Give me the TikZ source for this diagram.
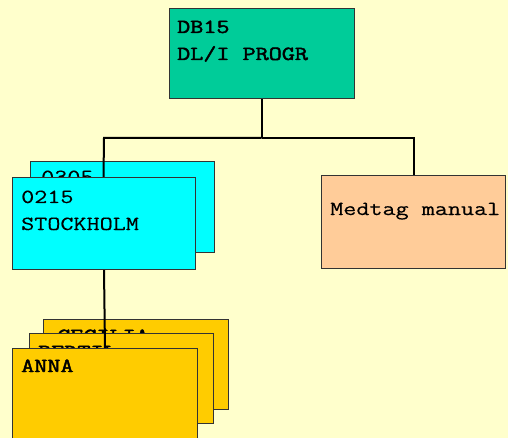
\documentclass[tikz,border=0pt]{standalone}
\usepackage{fontspec}
\newfontfamily\cour{Latin Modern Mono}[FakeStretch=1.27,
  UprightFeatures={FakeBold=0.35},
  BoldFont={Latin Modern Mono}, BoldFeatures={FakeBold=2.2}]
\definecolor{paper}{HTML}{FFFFCC}
\definecolor{rootgreen}{HTML}{00CC99}
\definecolor{deptcyan}{HTML}{00FFFF}
\definecolor{notepeach}{HTML}{FFCC99}
\definecolor{personyellow}{HTML}{FFCC00}
\definecolor{rim}{HTML}{333333}
\pgfdeclarelayer{back}
\pgfdeclarelayer{edges}
\pgfsetlayers{back,edges,main}
\tikzset{
  card/.style={draw=rim, line width=1pt, rectangle, anchor=north west, inner sep=0pt},
  label/.style={anchor=base west, inner sep=0pt, font=\cour\fontsize{20}{26}\selectfont},
  boldlabel/.style={label, font=\cour\bfseries\fontsize{20}{26}\selectfont},
  link/.style={draw=black, line width=2pt},
}
\newcommand{\cardat}[6]{% name, colour, x1, y1, x2, y2
  \node[card, fill=#2, minimum width={#5-#3}, minimum height={#6-#4}] (#1) at (#3,#4) {};}
\begin{document}
\begin{tikzpicture}[x=1pt, y=-1pt]
  \useasboundingbox (0,0) rectangle (508,438);
  \begin{pgfonlayer}{back}
    \fill[paper] (0,0) rectangle (508,438);
    % stacked cards behind the front ones
    \cardat{deptback}{deptcyan}{30}{161}{214}{252}
    \node[label] (deptbacktxt) at (41,183) {0305};
    \cardat{persback}{personyellow}{43}{319}{228}{409}
    \node[boldlabel] (persbacktxt) at (57,342) {CECILIA};
    \cardat{persmid}{personyellow}{29}{333}{213}{423}
    \node[boldlabel] (persmidtxt) at (38,358) {BERTIL};
  \end{pgfonlayer}

  % root
  \cardat{root}{rootgreen}{169}{8}{354}{98}
  \node[boldlabel] (roota) at (177,33) {DB15};
  \node[boldlabel] (rootb) at (177,60) {DL/I PROGR};

  % front department card
  \cardat{dept}{deptcyan}{12}{177}{195}{269}
  \node[label] (depta) at (21,203) {0215};
  \node[label] (deptb) at (21,230) {STOCKHOLM};

  % note card
  \cardat{note}{notepeach}{321}{175}{505}{268}
  \node[label] (notetxt) at (330,215) {Medtag manual};

  % front person card (runs off the lower edge)
  \cardat{pers}{personyellow}{12}{348}{197}{450}
  \node[boldlabel] (perstxt) at (21,372) {ANNA};

  % connectors
  \coordinate (split) at (261.5,138);
  \begin{pgfonlayer}{edges}
    \draw[link] (root.south -| split) -- (split);
    \draw[link] (split) -- (split -| dept.north) -- ([xshift=-0.5pt]dept.north);
    \draw[link] (split) -- (split -| note.north) -- (note.north);
    \draw[link] (dept.south) -- (pers.north);
  \end{pgfonlayer}
\end{tikzpicture}
\end{document}
